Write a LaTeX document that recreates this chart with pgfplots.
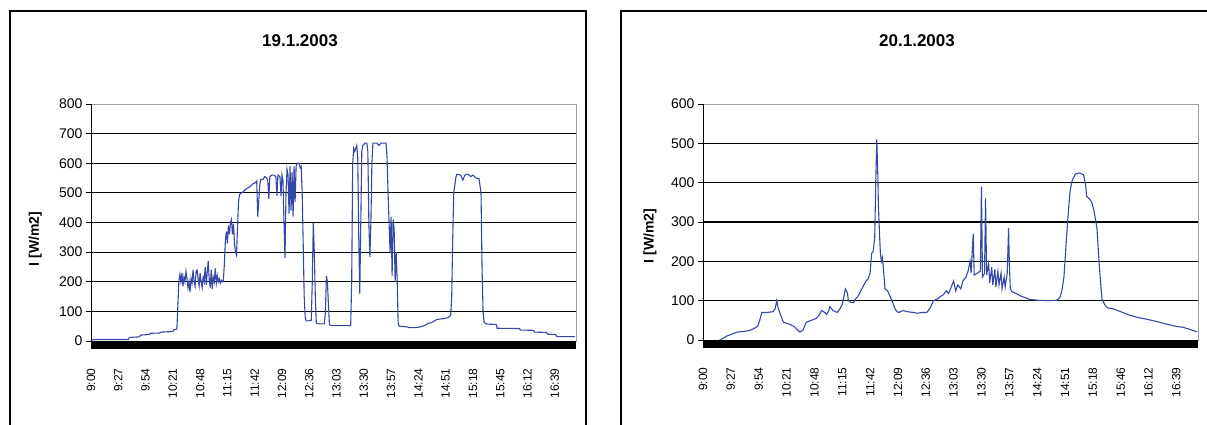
\documentclass[border=0pt]{standalone}
\usepackage{fontspec}
\setmainfont{Liberation Sans}
\usepackage{pgfplots}
\pgfplotsset{compat=1.18}
\definecolor{lineblue}{RGB}{52,72,168}

\pgfplotstableread{
m v
0 4
5 5
37 5
38 12
48 14
49 20
58 22
59 26
68 27
69 30
81 32
82 38
85 40
86 120
87 205
88 225
89 200
90 230
91 185
92 215
93 200
94 235
95 210
96 180
97 200
98 165
99 210
100 195
101 240
102 200
103 185
104 235
105 240
106 210
107 185
108 230
109 200
110 180
111 215
112 200
113 250
114 190
115 230
116 270
117 210
118 180
119 240
120 175
121 215
122 200
123 245
124 195
125 220
126 200
127 210
128 195
129 205
130 200
131 205
132 260
133 340
134 370
135 330
136 390
137 360
138 400
139 410
140 360
141 395
142 330
143 300
144 290
145 380
146 470
147 495
149 500
151 505
154 515
157 520
160 530
163 535
164 540
165 420
166 470
167 525
168 545
170 545
172 555
174 550
175 540
176 480
177 555
179 560
181 560
183 555
184 490
185 560
187 555
188 490
189 560
190 540
191 400
192 280
193 500
194 580
195 560
196 430
197 590
198 440
199 570
200 420
201 590
202 470
203 590
204 600
206 600
207 585
208 590
209 500
210 330
211 150
212 80
213 68
215 68
218 70
219 200
220 400
221 300
222 150
223 60
225 58
231 58
232 100
233 220
234 200
235 120
236 55
238 52
250 52
257 52
258 200
259 600
260 650
261 640
263 660
264 620
265 350
266 160
267 400
268 640
269 660
271 668
273 668
274 640
275 400
276 283
277 400
278 600
279 668
283 668
285 660
287 668
292 668
293 620
294 500
295 400
296 300
297 420
298 220
299 410
300 380
301 200
302 300
303 210
304 60
305 50
312 48
316 45
322 45
326 48
330 52
334 60
337 62
342 72
345 74
350 76
354 80
356 88
357 150
358 350
359 500
361 550
362 563
366 560
368 543
370 560
373 563
376 555
378 560
381 550
384 548
386 500
387 250
388 100
389 65
390 60
392 57
401 56
402 43
424 42
425 37
438 36
439 30
451 29
452 23
460 22
461 15
479 15
}\dataA

\pgfplotstableread{
m v
16 0
20 5
23 10
28 15
33 20
40 22
46 25
50 30
53 35
55 50
57 70
62 70
68 72
70 80
71.5 100
73 80
75 65
78 45
84 40
88 35
92 25
94 20
97 25
100 45
105 50
110 55
113 65
115 75
118 70
120 65
122 75
123 85
126 75
130 70
133 80
135 90
137 115
138 130
140 120
141 100
144 95
146 95
148 105
150 110
152 120
155 135
158 150
160 155
162 170
163.5 220
165 225
166.5 260
167.5 400
168.5 510
169.5 420
170 350
171 280
172 220
173 200
174 210
175 180
176.5 130
179 125
181.5 110
184 95
186 80
188 72
190 70
194 75
198 72
204 70
208 68
212 70
217 70
220 80
223.5 100
227 104
230 110
233 115
236 125
238 118
240 130
243 150
245 125
247 140
250 130
252 150
255 160
257 175
259 200
260 170
262 270
263 165
266 170
269 175
270 390
271 160
273 170
274 360
275 165
277 195
278 145
280 185
281 140
283 180
284 135
286 175
287 140
289 170
290 130
292 160
293 135
295 170
296.3 285
297 200
298 130
300 122
304 118
308 112
312 108
317 103
325 101
335 100
343 101
346 108
348 125
350 160
351 200
353 280
355 350
356 380
358 405
361 422
365 425
369 420
371 395
372 365
375 358
377 350
379 330
382 285
384 200
386 130
387 103
390 88
392 82
398 79
405 72
414 63
422 57
430 53
440 47
450 40
458 35
466 32
472 27
479 21
}\dataB

\pgfplotsset{
  panel/.style={
    scale only axis,
    anchor=south west,
    xmin=0, xmax=480,
    ymin=0,
    axis line style={draw=gray!75, line width=0.8pt},
    xtick={0,27,54,81,108,135,162,189,216,243,270,297,324,351,378,405,432,459},
    xtick style={draw=none},
    x tick label style={yshift=-19pt, rotate=90, anchor=east, font=\fontsize{12}{13}\selectfont},
    y tick label style={font=\fontsize{14}{15}\selectfont},
    ytick pos=left,
    tick align=outside,
    major tick length=5pt,
    ytick style={black, line width=0.8pt},
    /pgf/number format/assume math mode=true,
    /pgf/number format/1000 sep={},
    extra y tick labels={},
    extra y tick style={grid=major, major grid style={black, line width=1.1pt}},
    ylabel={I [W/m2]},
    ylabel style={font=\bfseries\fontsize{14}{15}\selectfont, anchor=center},
  }
}

\begin{document}
\begin{tikzpicture}
\useasboundingbox (0,0) rectangle (1207pt,424pt);
\clip (0,0) rectangle (1207pt,424pt);
\draw[line width=1.6pt] (10pt,413pt) rectangle (586pt,-20pt);
\draw[line width=1.6pt] (621pt,413pt) rectangle (1240pt,-20pt);
\node[font=\bfseries\fontsize{17}{19}\selectfont] at (300pt,383pt) {19.1.2003};
\node[font=\bfseries\fontsize{17}{19}\selectfont] at (917pt,383pt) {20.1.2003};

\begin{axis}[panel, name=L, at={(91pt,83pt)}, width=485pt, height=237pt,
  ymax=800, ytick={0,100,...,800}, extra y ticks={100,200,...,700},
  xticklabels={9:00,9:27,9:54,10:21,10:48,11:15,11:42,12:09,12:36,13:03,13:30,13:57,14:24,14:51,15:18,15:45,16:12,16:39},
  ylabel style={at={(axis description cs:-0.115,0.43)}}]
\addplot[lineblue, line width=1.1pt, mark=none] table[x=m,y=v] {\dataA};
\end{axis}
\fill[black] (L.south west) rectangle ([yshift=-8pt]L.south east);
\draw[black, line width=1pt] (L.south west) -- (L.north west);

\begin{axis}[panel, name=R, at={(703pt,84pt)}, width=495pt, height=236pt,
  ymax=600, ytick={0,100,...,600}, extra y ticks={100,200,...,500},
  xticklabels={9:00,9:27,9:54,10:21,10:48,11:15,11:42,12:09,12:36,13:03,13:30,13:57,14:24,14:51,15:18,15:46,16:12,16:39},
  ylabel style={at={(axis description cs:-0.107,0.44)}}]
\addplot[lineblue, line width=1.1pt, mark=none] table[x=m,y=v] {\dataB};
\end{axis}
\fill[black] (R.south west) rectangle ([yshift=-8pt]R.south east);
\draw[black, line width=1pt] (R.south west) -- (R.north west);
\end{tikzpicture}
\end{document}
